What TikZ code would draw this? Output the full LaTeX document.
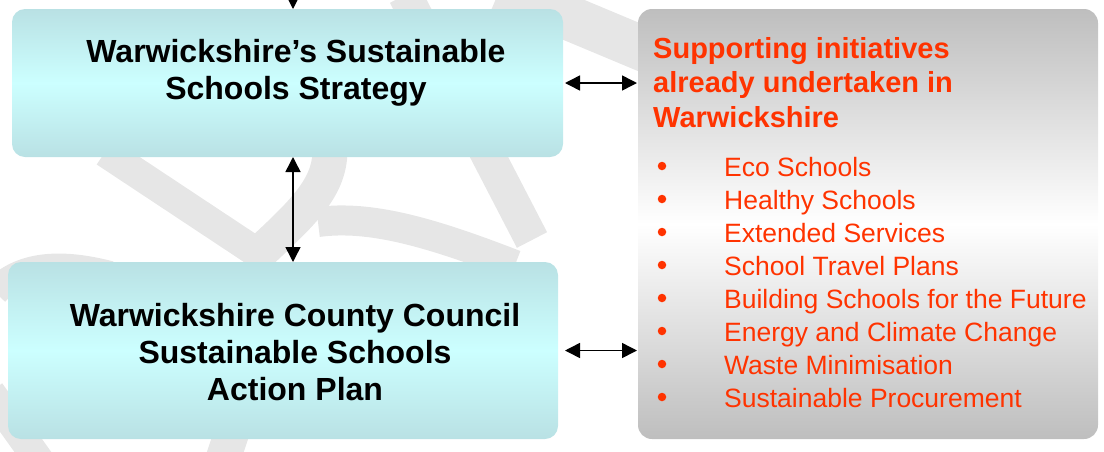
\documentclass[tikz,border=0pt]{standalone}
\usepackage{fontspec}
\setmainfont{Liberation Sans}
\usetikzlibrary{arrows.meta}
\definecolor{aqua}{RGB}{204,255,255}
\definecolor{aquaedge}{RGB}{185,225,228}
\definecolor{panelgrey}{RGB}{190,190,190}
\definecolor{initred}{RGB}{255,51,0}
\definecolor{swirl}{RGB}{230,230,230}

\begin{document}
\begin{tikzpicture}[x=1pt, y=-1pt,
    box/.style={rounded corners=13pt, inner sep=0pt, outer sep=0pt,
      top color=aquaedge, bottom color=aquaedge, middle color=aqua},
    panel/.style={rounded corners=14pt, inner sep=0pt, outer sep=0pt,
      top color=panelgrey, bottom color=panelgrey, middle color=white},
    title/.style={inner sep=0pt, align=center, anchor=north,
      font=\bfseries\fontsize{32}{37}\selectfont},
    item/.style={inner sep=0pt, anchor=base west, text=initred,
      font=\fontsize{26.5}{33}\selectfont},
    dot/.style={circle, fill=initred, inner sep=0pt, minimum size=8.5pt},
    link/.style={line width=1.5pt,
      arrows={Triangle[length=15pt,width=15pt]-Triangle[length=15pt,width=15pt]}},
    feedlink/.style={line width=1.5pt, arrows={-Triangle[length=15pt,width=15pt]}},
    swish/.style={swirl, line width=#1}, swish/.default=32pt]
   \useasboundingbox (0,0) rectangle (1104,451);
   \clip (0,0) rectangle (1104,451);

   % faint swirl in the background
   \draw[swish=30pt] (105,152) -- (265,258);
   \draw[swish=35pt] (250,262) .. controls (300,215) and (330,190) .. (330,150);
   \draw[swish=30pt] (318,222) .. controls (370,215) and (430,232) .. (515,265);
   \draw[swish=34pt] (405,-5) -- (532,240);
   \draw[swish=45pt] (500,-11) -- (665,58);
   \draw[swish=28pt] (-5,292) .. controls (20,265) and (60,262) .. (110,275);
   \draw[swish=30pt] (-10,392) -- (40,462);
   \draw[swish=35pt] (222,462) -- (232,432);

   \node[box, minimum width=551pt, minimum height=148pt] (strategy) at (287.5,83) {};
   \node[box, minimum width=550pt, minimum height=177pt] (actionplan) at (283,350.5) {};
   \node[panel, minimum width=460pt, minimum height=430pt] (initiatives) at (868,224) {};

   \node[title] (strategytxt) at (296,39) {Warwickshire’s Sustainable\\Schools Strategy};
   \node[title] (actionplantxt) at (295,303)
     {Warwickshire County Council\\Sustainable Schools\\Action Plan};
   \node[inner sep=0pt, anchor=north west, align=left, text=initred,
     font=\bfseries\fontsize{29}{34.5}\selectfont] (initiativestxt) at (653,37)
     {Supporting initiatives\\already undertaken in\\Warwickshire};

   \foreach \t [count=\i] in {Eco Schools, Healthy Schools, Extended Services,
       School Travel Plans, Building Schools for the Future,
       Energy and Climate Change, Waste Minimisation, Sustainable Procurement}
   {
     \node[dot] (dot\i) at (662,{133+33*\i}) {};
     \node[item] (item\i) at (724,{143+33*\i}) {\t};
   }

   \coordinate (feed) at (293,-20);
   \draw[feedlink] (feed) -- (feed |- strategy.north);
   \draw[link] (feed |- strategy.south) -- (feed |- actionplan.north);
   \draw[link, shorten <=2pt, shorten >=1pt] (strategy.east)
     -- (strategy.east -| initiatives.west);
   \draw[link, shorten <=2pt, shorten >=1pt] (actionplan.east -| strategy.east)
     -- (actionplan.east -| initiatives.west);
\end{tikzpicture}
\end{document}
